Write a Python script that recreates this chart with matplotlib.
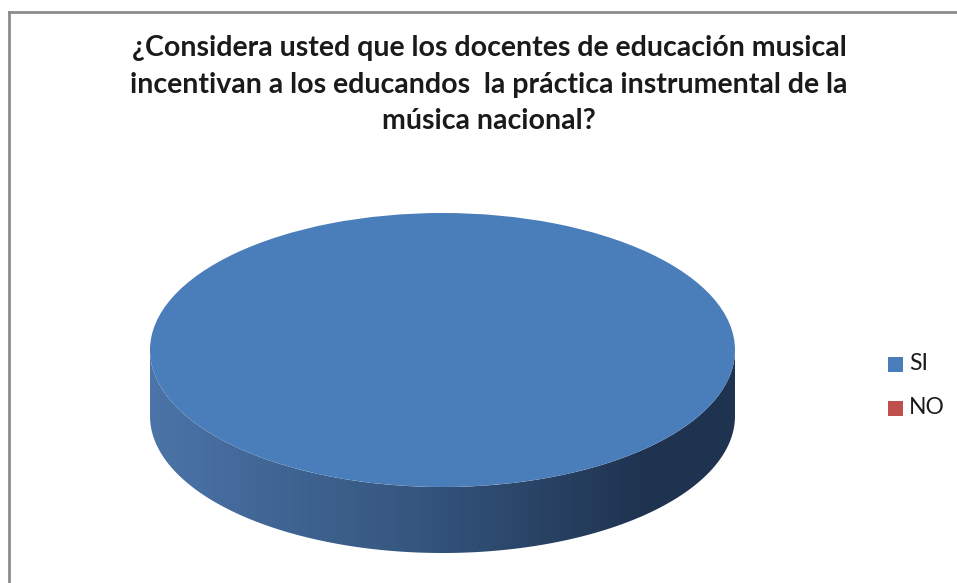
import numpy as np
import matplotlib
matplotlib.use("Agg")
import matplotlib.pyplot as plt
from matplotlib.patches import Polygon, Rectangle
from matplotlib.colors import LinearSegmentedColormap
from matplotlib.lines import Line2D

# ---- data ----
categories = ["SI", "NO"]
values = [100, 0]
colors = ["#4A7EBB", "#C0504D"]
title = ("¿Considera usted que los docentes de educación musical\n"
         "incentivan a los educandos  la práctica instrumental de la\n"
         "música nacional?")

W, H = 957, 583
fig = plt.figure(figsize=(W / 100, H / 100), dpi=100)
fig.patch.set_facecolor("white")

# chart border (only top and left visible in crop)
fig.add_artist(Line2D([9 / W, 9 / W], [0, 1 - 12 / H], transform=fig.transFigure,
                      color="#8C8C8C", lw=2))
fig.add_artist(Line2D([9 / W, 1], [1 - 12 / H, 1 - 12 / H], transform=fig.transFigure,
                      color="#8C8C8C", lw=2))

# ---- title ----
fig.text(489 / W, 1 - 35 / H, title, ha="center", va="top", fontsize=20.5,
         fontweight="bold", family="Lato", color="#1a1a1a", linespacing=1.5)

# ---- 3D pie ----
left, right, top, bottom = 150, 735, 213, 553
ry_px = 137
depth_px = (bottom - top) - 2 * ry_px
d = depth_px / ry_px  # depth in unit radius

ax = fig.add_axes([left / W, (H - bottom) / H, (right - left) / W, (bottom - top) / H])
wedges, _ = ax.pie(values, colors=colors, startangle=90, counterclock=False,
                   radius=1, wedgeprops=dict(linewidth=0))
ax.set_aspect("auto")
ax.set_xlim(-1, 1)
ax.set_ylim(-1 - d, 1)
ax.axis("off")

side_cmap = LinearSegmentedColormap.from_list(
    "side", [(0.0, "#4B74A8"), (0.45, "#35567F"), (0.85, "#1F3350"), (1.0, "#1F3350")])

for w, c in zip(wedges, colors):
    t1, t2 = w.theta1, w.theta2
    if t2 - t1 <= 0:
        continue
    segs = []
    for off in (-360, 0, 360):
        a, b = max(t1 + off, 180), min(t2 + off, 360)
        if b > a:
            segs.append((a, b))
    for a, b in segs:
        th = np.radians(np.linspace(a, b, 200))
        xs, ys = np.cos(th), np.sin(th)
        pts = np.concatenate([np.column_stack([xs, ys]),
                              np.column_stack([xs[::-1], ys[::-1] - d])])
        poly = Polygon(pts, closed=True, facecolor="none", edgecolor="none")
        ax.add_patch(poly)
        grad = np.linspace(0, 1, 256).reshape(1, -1)
        im = ax.imshow(grad, extent=[-1, 1, -1 - d, 0], cmap=side_cmap,
                       aspect="auto", zorder=0.5, interpolation="bilinear")
        im.set_clip_path(poly)

for w in wedges:
    w.set_zorder(2)

# ---- legend ----
fig.add_artist(Rectangle((888 / W, 1 - 372 / H), 15 / W, 15 / H,
                         transform=fig.transFigure, facecolor=colors[0], edgecolor="none"))
fig.add_artist(Rectangle((888 / W, 1 - 416 / H), 15 / W, 15 / H,
                         transform=fig.transFigure, facecolor=colors[1], edgecolor="none"))
fig.text(909 / W, 1 - 364 / H, categories[0], va="center", ha="left", fontsize=16.5,
         family="Lato", color="#1a1a1a")
fig.text(909 / W, 1 - 408 / H, categories[1], va="center", ha="left", fontsize=16.5,
         family="Lato", color="#1a1a1a")

fig.savefig("out.png", dpi=100, facecolor="white")
